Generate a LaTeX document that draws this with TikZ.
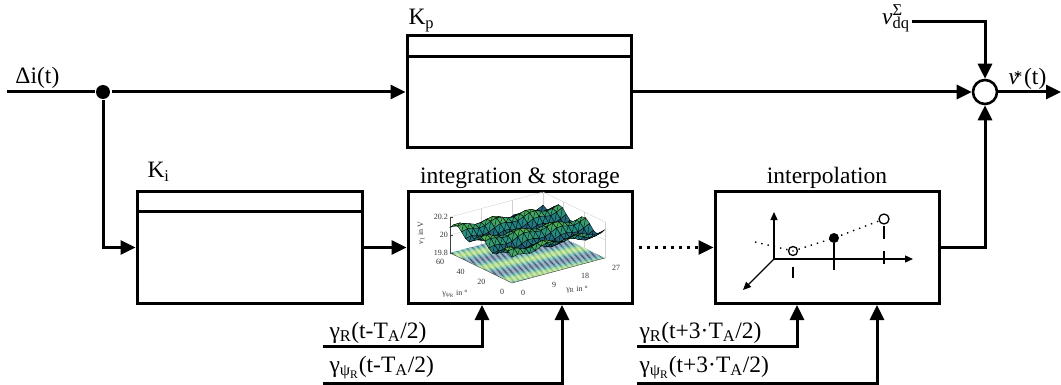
\documentclass[tikz,border=0pt]{standalone}
\usepackage{fontspec}
\setmainfont{Liberation Serif}
\usetikzlibrary{arrows.meta,calc}
\newcommand\sbs[1]{\textsubscript{#1}}
\definecolor{vc1}{HTML}{26456E}
\definecolor{vc2}{HTML}{1F8A85}
\definecolor{vc3}{HTML}{52B356}
\definecolor{vc4}{HTML}{8CCB50}
\begin{document}
\begin{tikzpicture}[x=1pt,y=-1pt,
  line width=3pt,
  blk/.style={draw, rectangle, minimum width=224pt, minimum height=112pt, inner sep=0pt, line width=3pt},
  arr/.style={line width=3pt, -{Triangle[length=15pt,width=14pt]}},
  lab/.style={inner sep=0pt, font=\fontsize{23.5}{28}\selectfont},
  tick/.style={inner sep=0pt, text=black!80, font=\fontsize{8}{8}\selectfont},
  declare function={f(\x,\y)=1.35+0.3*sin(900*\y+150*\x)+0.12*sin(1080*\x+40);}
]
\useasboundingbox (0,0) rectangle (1061,385);

% blocks
\node[blk] (kp) at (519,92) {};
\draw (kp.north west) ++(0,22) coordinate (kpa) -- (kpa -| kp.east);
\node[blk, minimum width=225pt] (ki) at (249.5,247.5) {};
\draw (ki.north west) ++(0,22) coordinate (kia) -- (kia -| ki.east);
\node[blk] (is) at (520,247.5) {};
\node[blk] (ip) at (827,247.5) {};
\node[circle, draw, minimum size=24pt, inner sep=0pt, line width=2.6pt] (sum) at (985,92) {};
\node[circle, fill, minimum size=14pt, inner sep=0pt] (j) at (103,92) {};
\coordinate (in) at (7,92);
\coordinate (out) at (1061,92);
\coordinate (vq) at (912,22);

% connectors
\draw (in) -- (j);
\draw[arr] (j) -- (kp.west);
\draw[arr] (kp.east) -- (sum.west);
\draw[arr] (j) |- (ki.west);
\draw[arr] (ki.east) -- (is.west);
\draw[arr, line width=3pt, dash pattern=on 3pt off 5pt] ($(is.east)+(5,0)$) -- (ip.west);
\draw[arr] (ip.east) -| (sum.south);
\draw[arr] (vq) -| (sum.north);
\draw[arr] (sum.east) -- (out);

% labels
\node[lab, anchor=base west] at (14,84) {Δi(t)};
\node[lab, anchor=base west] at (407,25) {K\sbs{p}};
\node[lab, anchor=base west] at (146,178) {K\sbs{i}};
\node[lab, anchor=base] at (520,183) {integration \& storage};
\node[lab, anchor=base] at (827,183) {interpolation};
\node[lab, anchor=base east] at (911,25) {\textit{v}\rlap{\textsuperscript{Σ}}\textsubscript{dq}};
\node[lab, anchor=base west] at (1007,85) {\textit{v}\kern-0.22em\raisebox{0.12em}{\fontsize{17}{17}\selectfont *}\kern0.08em(t)};

% bottom inputs
\coordinate (a1) at (323,346);
\coordinate (a2) at (323,383);
\coordinate (b1) at (637,346);
\coordinate (b2) at (637,383);
\draw[arr] (a1) -| ([xshift=-38pt]is.south);
\draw[arr] (a2) -| ([xshift=42pt]is.south);
\draw[arr] (b1) -| ([xshift=-30pt]ip.south);
\draw[arr] (b2) -| ([xshift=50pt]ip.south);
\node[lab, anchor=base west] at (328,338) {γ\sbs{R}(t-T\sbs{A}/2)};
\node[lab, anchor=base west] at (328,372) {γ\sbs{ψ\sbs{R}}(t-T\sbs{A}/2)};
\node[lab, anchor=base west] at (638,338) {γ\sbs{R}(t+3·T\sbs{A}/2)};
\node[lab, anchor=base west] at (638,372) {γ\sbs{ψ\sbs{R}}(t+3·T\sbs{A}/2)};

% 3D surface plot
\begin{scope}[shift={(512,283)}, x={(93pt,25pt)}, y={(-62pt,30pt)}, z={(0pt,18pt)}, line width=0.4pt]
  \foreach \s in {0,1,2} { \draw[gray!35] (0,1,\s) -- (1,1,\s) -- (1,0,\s); }
  \foreach \s in {0,0.3333,0.6667,1} { \draw[gray!35] (\s,1,0) -- (\s,1,2); \draw[gray!35] (1,\s,0) -- (1,\s,2); }
  \fill[white] (0,0,0) -- (1,0,0) -- (1,1,0) -- (0,1,0) -- cycle;
  \begin{scope}
    \clip (0,0,0) -- (1,0,0) -- (1,1,0) -- (0,1,0) -- cycle;
    \foreach \c in {-150,-125,...,1050} {
      \pgfmathsetmacro\lev{(sin(\c)+1)/2}
      \pgfmathsetmacro\mixA{min(100,max(0,200*\lev))}
      \pgfmathsetmacro\mixB{min(100,max(0,200*\lev-100))}
      \colorlet{ca}{vc2!\mixA!vc1}\colorlet{cb}{vc4!\mixB!ca}
      \draw[cb, line width=0.6pt] (0,{\c/900},0) -- (1,{(\c-150)/900},0);
    }
  \end{scope}
  \draw[black!75] (0,1,0) -- (0,1,2);
  \foreach \s/\l in {0/19.8,1/20,2/20.2} {
    \draw[black!75] (0,1,\s) -- ++(3pt,0);
    \node[tick, anchor=east, xshift=-2pt] at (0,1,\s) {\l};
  }
  \draw[black!75] (0,1,0) -- (0,0,0) -- (1,0,0);
  \foreach \s/\l in {1/60,0.6667/40,0.3333/20,0/0} {
    \node[tick, xshift=-10pt, yshift=-9pt] at (0,\s,0) {\l};
  }
  \foreach \s/\l in {0/0,0.3333/9,0.6667/18,1/27} {
    \node[tick, xshift=11pt, yshift=-10pt] at (\s,0,0) {\l};
  }
  \foreach \j in {15,14,...,0} {
    \foreach \i in {15,14,...,0} {
      \pgfmathsetmacro\ua{\i/16}\pgfmathsetmacro\ub{(\i+1)/16}
      \pgfmathsetmacro\wa{\j/16}\pgfmathsetmacro\wb{(\j+1)/16}
      \pgfmathsetmacro\lev{(f((\ua+\ub)/2,(\wa+\wb)/2)-0.95)/0.8}
      \pgfmathsetmacro\mixA{min(100,max(0,200*\lev))}
      \pgfmathsetmacro\mixB{min(100,max(0,200*\lev-100))}
      \colorlet{ca}{vc2!\mixA!vc1}\colorlet{cb}{vc3!\mixB!ca}
      \filldraw[fill=cb, draw=black, line width=0.35pt]
        (\ua,\wa,{f(\ua,\wa)}) -- (\ub,\wa,{f(\ub,\wa)}) -- (\ub,\wb,{f(\ub,\wb)}) -- (\ua,\wb,{f(\ua,\wb)}) -- cycle;
      \draw[black, line width=0.35pt] (\ua,\wa,{f(\ua,\wa)}) -- (\ub,\wb,{f(\ub,\wb)});
    }
  }
\end{scope}
\node[tick] at (455,294) {γ\sbs{ψ\sbs{R}} in °};
\node[tick] at (577,290) {γ\sbs{R} in °};
\node[tick, rotate=90] at (421,233) {\textit{v}\sbs{1} in V};

% interpolation icon
\begin{scope}[line width=1.3pt, sa/.style={-{Triangle[length=8pt,width=7pt]}}]
  \coordinate (o) at (774,259);
  \draw[sa] (o) -- (774,212);
  \draw[sa] (o) -- (913,259);
  \draw[sa] (o) -- (743,290);
  \draw[line width=1.4pt, dash pattern=on 1.4pt off 5pt] (755,242) -- (793,251) -- (834,238) -- (884,219);
  \draw (834,243) -- (834,270);
  \draw (793,267) -- (793,278);
  \draw (884,226) -- (884,239);
  \draw (884,251) -- (884,264);
  \node[circle, draw, fill=white, minimum size=9pt, inner sep=0pt, line width=1.3pt] (p1) at (793,251) {};
  \fill (793,251) circle (0.9pt);
  \node[circle, fill, minimum size=10pt, inner sep=0pt] (p2) at (834,238) {};
  \node[circle, draw, fill=white, minimum size=10pt, inner sep=0pt, line width=1.3pt] (p3) at (884,219) {};
\end{scope}
\end{tikzpicture}
\end{document}
